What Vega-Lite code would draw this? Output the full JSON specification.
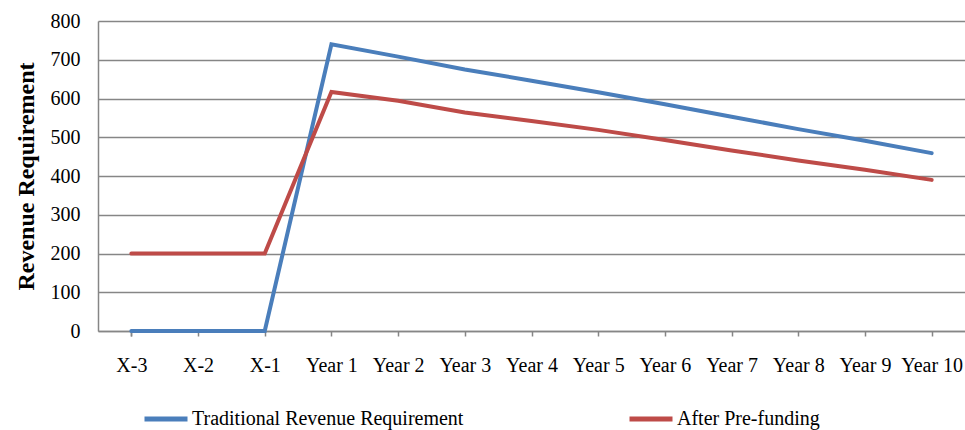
{
  "$schema": "https://vega.github.io/schema/vega-lite/v6.json",
  "autosize": "none",
  "width": 867,
  "height": 310,
  "padding": {"left": 98, "top": 21, "right": 0, "bottom": 99},
  "background": "white",
  "config": {
    "view": {"stroke": null},
    "font": "Liberation Serif"
  },
  "data": {
    "values": [
      {"period": "X-3", "series": "Traditional Revenue Requirement", "value": 0},
      {"period": "X-2", "series": "Traditional Revenue Requirement", "value": 0},
      {"period": "X-1", "series": "Traditional Revenue Requirement", "value": 0},
      {"period": "Year 1", "series": "Traditional Revenue Requirement", "value": 740},
      {"period": "Year 2", "series": "Traditional Revenue Requirement", "value": 708},
      {"period": "Year 3", "series": "Traditional Revenue Requirement", "value": 675},
      {"period": "Year 4", "series": "Traditional Revenue Requirement", "value": 646},
      {"period": "Year 5", "series": "Traditional Revenue Requirement", "value": 616},
      {"period": "Year 6", "series": "Traditional Revenue Requirement", "value": 585},
      {"period": "Year 7", "series": "Traditional Revenue Requirement", "value": 553},
      {"period": "Year 8", "series": "Traditional Revenue Requirement", "value": 521},
      {"period": "Year 9", "series": "Traditional Revenue Requirement", "value": 491},
      {"period": "Year 10", "series": "Traditional Revenue Requirement", "value": 459},
      {"period": "X-3", "series": "After Pre-funding", "value": 200},
      {"period": "X-2", "series": "After Pre-funding", "value": 200},
      {"period": "X-1", "series": "After Pre-funding", "value": 200},
      {"period": "Year 1", "series": "After Pre-funding", "value": 617},
      {"period": "Year 2", "series": "After Pre-funding", "value": 594},
      {"period": "Year 3", "series": "After Pre-funding", "value": 564},
      {"period": "Year 4", "series": "After Pre-funding", "value": 542},
      {"period": "Year 5", "series": "After Pre-funding", "value": 519},
      {"period": "Year 6", "series": "After Pre-funding", "value": 493},
      {"period": "Year 7", "series": "After Pre-funding", "value": 466},
      {"period": "Year 8", "series": "After Pre-funding", "value": 440},
      {"period": "Year 9", "series": "After Pre-funding", "value": 416},
      {"period": "Year 10", "series": "After Pre-funding", "value": 390}
    ]
  },
  "mark": {"type": "line", "strokeWidth": 4, "strokeCap": "round"},
  "encoding": {
    "x": {
      "field": "period",
      "type": "ordinal",
      "sort": ["X-3", "X-2", "X-1", "Year 1", "Year 2", "Year 3", "Year 4", "Year 5", "Year 6", "Year 7", "Year 8", "Year 9", "Year 10"],
      "scale": {"type": "point", "padding": 0.5},
      "axis": {
        "title": null,
        "labelAngle": 0,
        "labelFont": "Liberation Serif",
        "labelFontSize": 20,
        "labelColor": "#000000",
        "labelPadding": 19,
        "domainColor": "#868686",
        "domainWidth": 1.5,
        "tickColor": "#868686",
        "tickSize": 5,
        "tickWidth": 1.5,
        "tickBand": "extent",
        "grid": false
      }
    },
    "y": {
      "field": "value",
      "type": "quantitative",
      "scale": {"domain": [0, 800], "nice": false},
      "axis": {
        "title": "Revenue Requirement",
        "titleFont": "Liberation Serif",
        "titleFontSize": 24,
        "titleFontWeight": "bold",
        "titleColor": "#000000",
        "titlePadding": 12,
        "values": [0, 100, 200, 300, 400, 500, 600, 700, 800],
        "labelFont": "Liberation Serif",
        "labelFontSize": 20,
        "labelColor": "#000000",
        "labelPadding": 18,
        "ticks": false,
        "tickSize": 0,
        "domainColor": "#868686",
        "domainWidth": 1.5,
        "grid": true,
        "gridColor": "#868686",
        "gridWidth": 1.5
      }
    },
    "color": {
      "field": "series",
      "type": "nominal",
      "sort": ["Traditional Revenue Requirement", "After Pre-funding"],
      "scale": {
        "domain": ["Traditional Revenue Requirement", "After Pre-funding"],
        "range": ["#4A7EBB", "#BE4B48"]
      },
      "legend": {
        "title": null,
        "orient": "none",
        "direction": "horizontal",
        "legendX": 44,
        "legendY": 374,
        "columns": 2,
        "columnPadding": 155,
        "symbolType": "stroke",
        "symbolSize": 1849,
        "symbolStrokeWidth": 5,
        "labelOffset": 2,
        "labelFont": "Liberation Serif",
        "labelFontSize": 20,
        "labelColor": "#000000",
        "labelLimit": 400
      }
    }
  }
}
